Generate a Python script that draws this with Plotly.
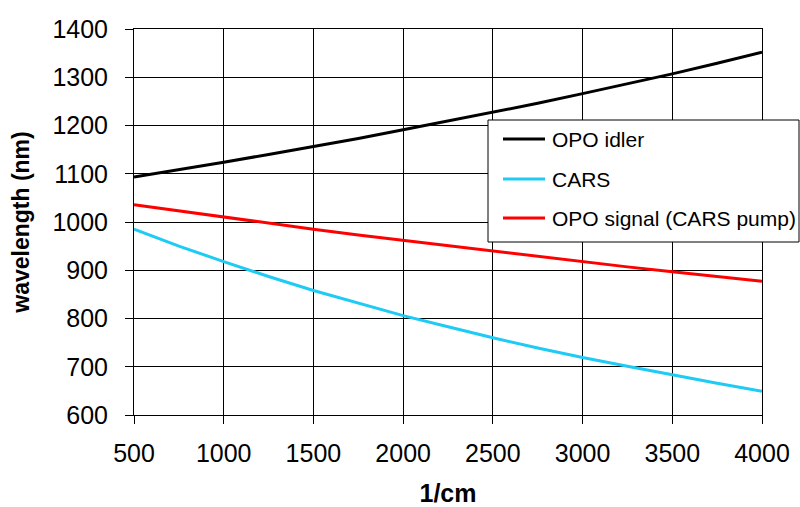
import plotly.graph_objects as go

raman_shift = [500, 750, 1000, 1250, 1500, 1750, 2000, 2250, 2500, 2750, 3000, 3250, 3500, 3750, 4000]
opo_idler = [1093, 1108, 1124, 1140, 1156, 1173, 1191, 1209, 1227, 1246, 1266, 1286, 1307, 1329, 1352]
cars = [985, 950, 918, 887, 858, 832, 806, 783, 760, 739, 719, 701, 683, 666, 649]
opo_signal = [1036, 1023, 1010, 998, 985, 973, 962, 950, 939, 928, 918, 907, 897, 887, 877]

series_names = ["OPO idler", "CARS", "OPO signal (CARS pump)"]
series_colors = ["black", "#1ecbf5", "#ff0000"]
series_values = [opo_idler, cars, opo_signal]

W, H = 800, 507
L, R, T, B = 134, 38, 29, 92
pw, ph = W - L - R, H - T - B


def px(x):
    return (x - L) / pw


def py(y):
    return (H - B - y) / ph


fig = go.Figure()
for name, color, vals in zip(series_names, series_colors, series_values):
    fig.add_trace(go.Scatter(x=raman_shift, y=vals, mode="lines", name=name,
                             line=dict(color=color, width=3)))

font = "Liberation Sans, Arial, sans-serif"

shapes = [dict(type="rect", xref="paper", yref="paper", layer="above",
               x0=px(488), x1=px(799), y0=py(242), y1=py(120),
               fillcolor="white", line=dict(color="black", width=1))]
annotations = []
item_y = [139, 179, 218]
for name, color, yy in zip(series_names, series_colors, item_y):
    shapes.append(dict(type="line", xref="paper", yref="paper", layer="above",
                       x0=px(503), x1=px(545), y0=py(yy), y1=py(yy),
                       line=dict(color=color, width=3)))
    annotations.append(dict(xref="paper", yref="paper", x=px(550), y=py(yy),
                            xanchor="left", yanchor="middle", showarrow=False,
                            text=name, font=dict(size=21, family=font, color="black")))

fig.update_layout(
    width=W, height=H,
    margin=dict(l=L, r=R, t=T, b=B),
    paper_bgcolor="white", plot_bgcolor="white",
    font=dict(family=font, size=25, color="black"),
    showlegend=False,
    shapes=shapes,
    annotations=annotations,
    xaxis=dict(range=[500, 4000], tickvals=[500, 1000, 1500, 2000, 2500, 3000, 3500, 4000],
               tickangle=0,
               showgrid=True, gridcolor="black", gridwidth=1,
               showline=True, linecolor="black", linewidth=1, mirror=True,
               ticks="outside", ticklen=8, tickcolor="black", ticklabelstandoff=8,
               zeroline=False, automargin=False,
               title=dict(text="<b>1/cm</b>", font=dict(size=25), standoff=20)),
    yaxis=dict(range=[600, 1400], dtick=100,
               showgrid=True, gridcolor="black", gridwidth=1,
               showline=True, linecolor="black", linewidth=1, mirror=True,
               ticks="outside", ticklen=8, tickcolor="black", ticklabelstandoff=12,
               zeroline=False, automargin=False,
               title=dict(text="<b>wavelength (nm)</b>", font=dict(size=23), standoff=16)),
)

fig.write_html("out.html")
